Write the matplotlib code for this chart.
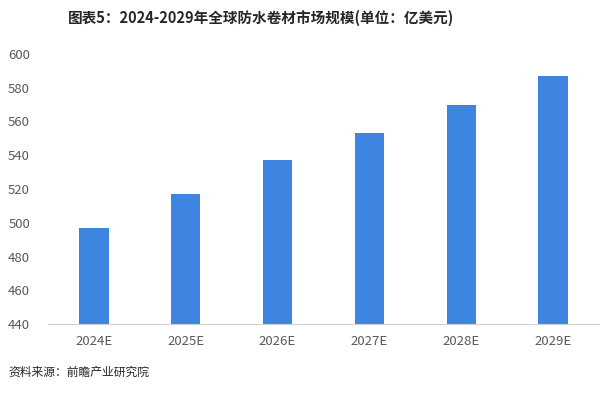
import matplotlib.pyplot as plt

plt.rcParams['font.family'] = ['Noto Sans CJK SC', 'DejaVu Sans']

years = ["2024E", "2025E", "2026E", "2027E", "2028E", "2029E"]
market_size = [497, 517, 537, 553, 570, 587]

title = "图表5：2024-2029年全球防水卷材市场规模(单位：亿美元)"
source = "资料来源：前瞻产业研究院"

fig = plt.figure(figsize=(6.03, 3.93), dpi=100)
ax = fig.add_axes([48 / 603, 1 - 324 / 393, 551 / 603, 270 / 393])

x = range(len(years))
ax.bar(x, market_size, width=0.32, color="#3D85E0", zorder=2)

ax.set_xlim(-0.5, len(years) - 0.5)
ax.set_ylim(440, 600)
ax.set_yticks(range(440, 601, 20))
ax.set_xticks(list(x))
ax.set_xticklabels(years)

for side in ["top", "right", "left"]:
    ax.spines[side].set_visible(False)
ax.spines["bottom"].set_color("#d0d0d0")
ax.tick_params(axis="both", length=0, labelsize=9.5, colors="#595959")
ax.tick_params(axis="y", pad=13)
ax.tick_params(axis="x", pad=8)

fig.text(261 / 603, 1 - 18 / 393, title, ha="center", va="center",
         fontsize=10.5, fontweight="bold", color="#262626")
fig.text(8 / 603, 1 - 372 / 393, source, ha="left", va="center",
         fontsize=8.5, color="#262626")

fig.savefig("out.png", dpi=100)
